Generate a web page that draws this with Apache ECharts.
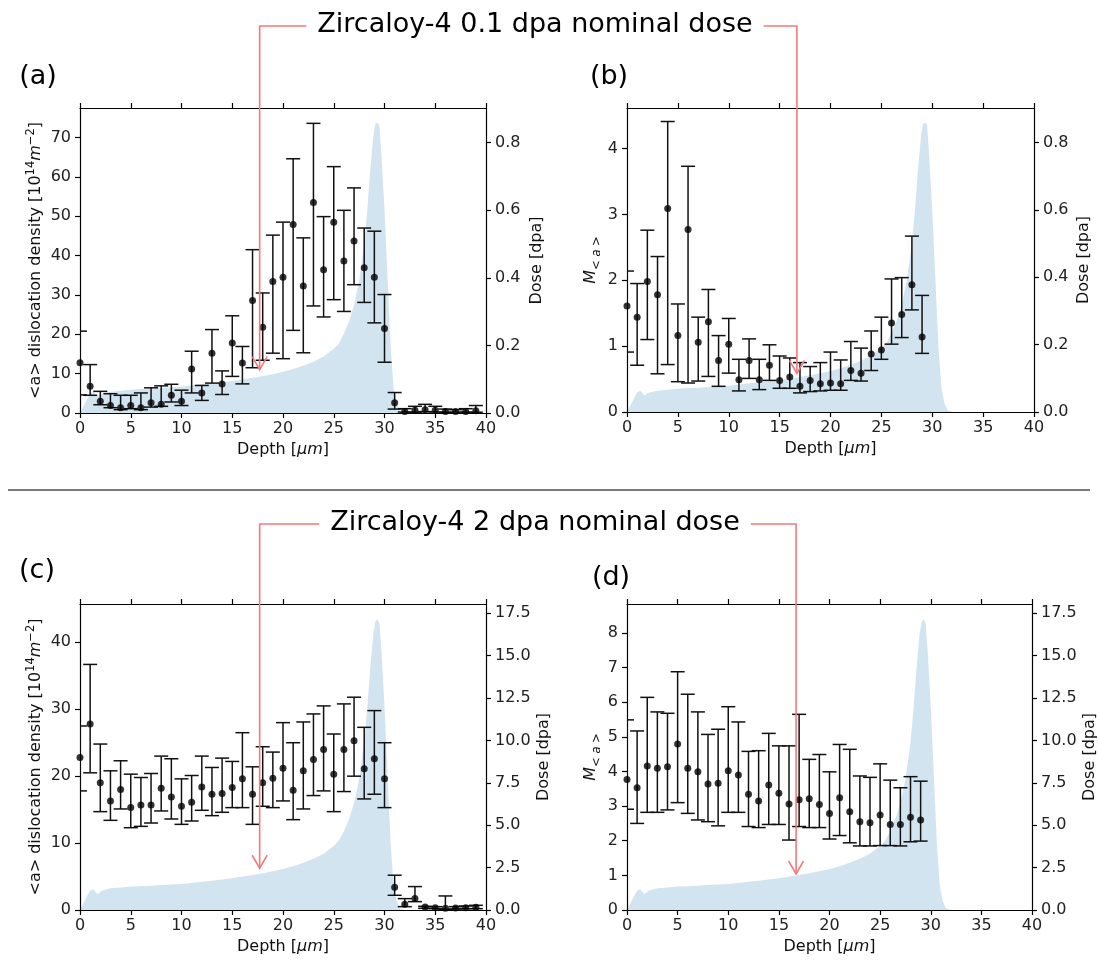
<!DOCTYPE html>
<html><head><meta charset="utf-8">
<script src="https://cdn.jsdelivr.net/npm/echarts@6/dist/echarts.min.js"></script>
<style>html,body{margin:0;padding:0;background:#fff}#c{width:1099px;height:960px}</style>
</head><body><div id="c"></div>
<script>
// ---------------- data ----------------
const xTicks = [0,5,10,15,20,25,30,35,40];
const depth40 = [0,1,2,3,4,5,6,7,8,9,10,11,12,13,14,15,16,17,18,19,20,21,22,23,24,25,26,27,28,29,30,31,32,33,34,35,36,37,38,39];
const depth30 = [0,1,2,3,4,5,6,7,8,9,10,11,12,13,14,15,16,17,18,19,20,21,22,23,24,25,26,27,28,29];

// (a) <a> dislocation density, 0.1 dpa
const aVal = [12.8,6.8,3.0,1.9,1.35,1.9,1.35,2.6,2.2,4.5,3.0,11.2,5.1,15.2,7.4,17.8,12.7,28.6,21.8,33.4,34.5,47.9,32.3,53.5,36.4,48.5,38.6,43.7,36.9,34.5,21.5,2.6,0.4,0.7,0.85,0.7,0.4,0.35,0.4,0.6];
const aHi  = [20.8,12.3,5.5,4.9,4.5,4.5,5.1,6.4,6.9,7.3,5.8,15.7,7.0,21.2,10.7,24.7,16.9,41.5,30.5,45.2,48.5,64.6,44.5,73.6,49.9,62.6,51.5,57.2,47.0,46.2,30.1,5.2,1.1,1.7,2.2,1.7,1.0,0.85,1.1,1.9];
const aLo  = [4.6,4.5,2.1,1.35,0.85,1.1,0.85,1.5,1.7,2.8,1.9,5.1,3.2,7.6,4.7,9.3,7.4,11.5,13.4,15.2,13.8,21.0,15.3,27.2,24.4,28.8,25.8,32.6,28.1,22.9,12.9,1.0,0.25,0.2,0.35,0.25,0.2,0.2,0.2,0.2];

// (b) M<a>, 0.1 dpa
const bVal = [1.61,1.44,1.98,1.78,3.09,1.16,2.77,1.06,1.37,0.78,1.03,0.49,0.78,0.49,0.71,0.48,0.53,0.39,0.48,0.43,0.44,0.43,0.63,0.59,0.88,0.94,1.35,1.48,1.93,1.14];
const bHi  = [2.14,1.95,2.76,2.36,4.41,1.64,3.73,1.44,1.86,1.16,1.42,0.80,1.11,0.80,1.02,0.85,0.82,0.75,0.69,0.75,0.91,0.79,1.07,0.97,1.23,1.44,2.02,2.04,2.67,1.77];
const bLo  = [0.91,0.71,1.10,0.58,0.72,0.46,0.44,0.47,0.54,0.39,0.59,0.32,0.51,0.34,0.48,0.36,0.36,0.29,0.31,0.32,0.33,0.33,0.48,0.47,0.63,0.80,1.03,1.13,1.55,0.89];

// (c) <a> dislocation density, 2 dpa
const cVal = [22.8,27.8,19.0,16.3,18.0,15.3,15.7,15.7,18.2,16.9,15.5,16.1,18.4,17.3,17.4,18.3,19.6,17.3,19.0,19.7,21.2,17.9,20.8,22.5,24.0,20.3,24.0,25.3,21.1,22.6,19.6,3.4,0.85,1.7,0.45,0.35,0.25,0.3,0.35,0.4];
const cHi  = [27.5,36.7,24.8,20.8,22.3,20.3,19.8,20.4,23.0,22.6,19.6,20.1,23.0,21.3,22.7,22.2,26.5,21.4,24.4,23.6,28.0,25.0,28.1,29.3,30.5,26.3,30.8,31.8,27.3,29.8,25.0,5.2,1.7,3.5,0.55,0.5,2.1,0.5,0.6,0.7];
const cLo  = [17.8,20.5,14.7,13.4,15.1,12.3,12.5,13.0,14.8,13.6,12.8,13.3,14.9,14.1,14.6,15.3,15.3,12.8,15.5,15.3,16.3,13.5,15.1,17.1,17.8,14.7,17.7,20.0,16.6,17.3,15.3,2.2,0.5,1.25,0.25,0.2,0.1,0.15,0.2,0.2];

// (d) M<a>, 2 dpa
const dVal = [3.77,3.53,4.16,4.09,4.14,4.79,4.09,3.99,3.64,3.66,4.02,3.90,3.34,3.15,3.61,3.37,3.06,3.18,3.21,3.05,2.79,3.24,2.84,2.55,2.52,2.74,2.47,2.47,2.68,2.60];
const dHi  = [5.49,5.17,6.14,5.72,5.68,6.88,6.23,5.72,5.07,5.22,5.87,5.43,4.58,4.60,5.10,4.74,4.74,5.65,4.35,4.49,3.99,4.78,4.64,3.87,3.83,4.22,3.75,3.53,3.85,3.72];
const dLo  = [2.91,2.50,2.82,2.82,2.89,3.10,2.79,2.60,2.55,2.43,2.82,2.82,2.41,2.38,2.47,2.47,2.02,2.41,2.38,2.38,2.05,2.15,1.94,1.85,1.85,1.86,1.86,1.85,1.97,1.99];

// dose profiles (dpa) vs depth
const doseDepth = [0,0.5,1.0,1.3,1.7,2.2,3,4,5,6,7,8,9,10,11,12,13,14,15,16,17,18,19,20,21,22,23,24,25,25.5,26,26.5,27,27.5,28,28.3,28.6,28.9,29.1,29.3,29.5,29.7,30,30.3,30.6,30.9,31.2,31.5,32,40];
const dose01 = [0,0.03,0.058,0.063,0.05,0.058,0.063,0.066,0.069,0.071,0.072,0.074,0.076,0.078,0.082,0.085,0.088,0.091,0.095,0.099,0.104,0.109,0.115,0.122,0.13,0.14,0.152,0.167,0.19,0.205,0.235,0.27,0.32,0.39,0.5,0.6,0.72,0.82,0.855,0.86,0.85,0.76,0.6,0.4,0.2,0.07,0.025,0.005,0,0];
const dose2 = [0,0.6,1.15,1.22,0.95,1.15,1.28,1.33,1.38,1.4,1.43,1.47,1.5,1.53,1.6,1.66,1.73,1.8,1.88,1.97,2.07,2.17,2.28,2.42,2.58,2.78,3.02,3.32,3.78,4.1,4.65,5.35,6.3,7.7,9.9,11.9,14.3,16.3,17.0,17.15,16.9,15.2,12.0,8.0,4.0,1.4,0.5,0.1,0,0];

// tick values
const aTicks = [0,10,20,30,40,50,60,70];
const bTicks = [0,1,2,3,4];
const cTicks = [0,10,20,30,40];
const dTicks = [0,1,2,3,4,5,6,7,8];
const dose01Ticks = [0,0.2,0.4,0.6,0.8];
const dose2Ticks = [0,2.5,5,7.5,10,12.5,15,17.5];

// annotation arrows: [depth, value] of arrow tips
const arrowA = [17.7, 11.0];
const arrowB = [16.7, 0.585];
const arrowC = [17.7, 6.24];
const arrowD = [16.7, 1.04];

const titles = ['Zircaloy-4 0.1 dpa nominal dose', 'Zircaloy-4 2 dpa nominal dose'];
const panelLabels = ['(a)', '(b)', '(c)', '(d)'];

// ---------------- chart ----------------
const FONT = 'DejaVu Sans';
const chart = echarts.init(document.getElementById('c'), null, {renderer: 'canvas'});

const grids = [
  {left: 80, top: 108, width: 406, height: 305},
  {left: 627, top: 108, width: 407, height: 304},
  {left: 80, top: 604, width: 406, height: 306},
  {left: 627, top: 604, width: 407, height: 306}
];

const AX = {color: '#000', width: 1.2};
const FS = 16;
const lbl = {fontFamily: FONT, fontSize: FS, color: '#222'};

const leftName = '{n|<a> dislocation density [10}{s|14}{i|m}{s|−2}{n|]}';
const leftRich = {
  n: {fontFamily: FONT, fontSize: FS, color: '#111', lineHeight: 22},
  s: {fontFamily: FONT, fontSize: 11.5, color: '#111', verticalAlign: 'top', lineHeight: 22},
  i: {fontFamily: FONT, fontSize: FS, fontStyle: 'italic', color: '#111', lineHeight: 22}
};
const mName = '{i|M}{sub|< a >}';
const mRich = {
  i: {fontFamily: FONT, fontSize: FS, fontStyle: 'italic', color: '#111', lineHeight: 24},
  sub: {fontFamily: FONT, fontSize: 11.5, fontStyle: 'italic', color: '#111', verticalAlign: 'bottom', lineHeight: 24}
};
const depthName = '{n|Depth [}{i|μm}{n|]}';
const depthRich = {
  n: {fontFamily: FONT, fontSize: FS, color: '#111'},
  i: {fontFamily: FONT, fontSize: FS, fontStyle: 'italic', color: '#111'}
};

function xBottom(gi) {
  return {gridIndex: gi, type: 'value', position: 'bottom', min: 0, max: 40, interval: 5,
    axisLine: {show: true, onZero: false, lineStyle: AX},
    axisTick: {show: true, length: 5, lineStyle: AX, customValues: xTicks},
    axisLabel: Object.assign({margin: 8, customValues: xTicks}, lbl),
    splitLine: {show: false},
    name: depthName, nameLocation: 'middle', nameGap: 29,
    nameTextStyle: {rich: depthRich}};
}
function xTop(gi) {
  return {gridIndex: gi, type: 'value', position: 'top', min: 0, max: 40, interval: 5,
    axisLine: {show: true, onZero: false, lineStyle: AX},
    axisTick: {show: true, length: 5, lineStyle: AX, customValues: xTicks},
    axisLabel: {show: false}, splitLine: {show: false}};
}
function yAxis(gi, pos, max, ticks, fmt, name, gap, rich) {
  return {gridIndex: gi, type: 'value', position: pos, min: 0, max: max,
    axisLine: {show: true, onZero: false, lineStyle: AX},
    axisTick: {show: true, length: 5, lineStyle: AX, customValues: ticks},
    axisLabel: Object.assign({margin: 9, customValues: ticks, formatter: fmt}, lbl),
    splitLine: {show: false},
    name: name, nameLocation: 'middle', nameGap: gap,
    nameTextStyle: rich ? {rich: rich} : {fontFamily: FONT, fontSize: FS, color: '#111'}};
}
const f0 = v => String(v);
const f1 = v => v.toFixed(1);

const xAxes = [], yAxes = [];
for (let g = 0; g < 4; g++) { xAxes.push(xBottom(g)); xAxes.push(xTop(g)); }
yAxes.push(yAxis(0, 'left', 77.5, aTicks, f0, leftName, 33, leftRich));
yAxes.push(yAxis(0, 'right', 0.9025, dose01Ticks, f1, 'Dose [dpa]', 43));
yAxes.push(yAxis(1, 'left', 4.615, bTicks, f0, mName, 24, mRich));
yAxes.push(yAxis(1, 'right', 0.9025, dose01Ticks, f1, 'Dose [dpa]', 42));
yAxes.push(yAxis(2, 'left', 45.73, cTicks, f0, leftName, 33, leftRich));
yAxes.push(yAxis(2, 'right', 18.05, dose2Ticks, f1, 'Dose [dpa]', 50));
yAxes.push(yAxis(3, 'left', 8.836, dTicks, f0, mName, 24, mRich));
yAxes.push(yAxis(3, 'right', 18.05, dose2Ticks, f1, 'Dose [dpa]', 50));

function errRender(params, api) {
  const x = api.value(0), lo = api.value(1), hi = api.value(2);
  const pLo = api.coord([x, lo]), pHi = api.coord([x, hi]);
  const w = 7;
  const st = {stroke: '#111', lineWidth: 1.5};
  return {type: 'group', children: [
    {type: 'line', shape: {x1: pLo[0], y1: pLo[1], x2: pHi[0], y2: pHi[1]}, style: st},
    {type: 'line', shape: {x1: pLo[0] - w, y1: pLo[1], x2: pLo[0] + w, y2: pLo[1]}, style: st},
    {type: 'line', shape: {x1: pHi[0] - w, y1: pHi[1], x2: pHi[0] + w, y2: pHi[1]}, style: st}
  ]};
}

const panels = [
  {depth: depth40, val: aVal, lo: aLo, hi: aHi, dose: dose01},
  {depth: depth30, val: bVal, lo: bLo, hi: bHi, dose: dose01},
  {depth: depth40, val: cVal, lo: cLo, hi: cHi, dose: dose2},
  {depth: depth30, val: dVal, lo: dLo, hi: dHi, dose: dose2}
];

const series = [];
panels.forEach((p, g) => {
  series.push({type: 'line', xAxisIndex: 2 * g, yAxisIndex: 2 * g + 1,
    data: doseDepth.map((d, i) => [d, p.dose[i]]),
    showSymbol: false, symbol: 'none', smooth: false,
    lineStyle: {width: 0, opacity: 0},
    areaStyle: {color: 'rgba(31,119,180,0.2)', opacity: 1},
    silent: true, z: 1, animation: false});
  series.push({type: 'custom', xAxisIndex: 2 * g, yAxisIndex: 2 * g,
    data: p.depth.map((d, i) => [d, p.lo[i], p.hi[i]]),
    renderItem: errRender, clip: true, z: 3, animation: false, silent: true});
  series.push({type: 'scatter', xAxisIndex: 2 * g, yAxisIndex: 2 * g,
    data: p.depth.map((d, i) => [d, p.val[i]]),
    symbol: 'circle', symbolSize: 7, itemStyle: {color: '#000'},
    clip: true, z: 4, animation: false, silent: true});
});

chart.setOption({
  backgroundColor: '#fff',
  animation: false,
  grid: grids,
  xAxis: xAxes,
  yAxis: yAxes,
  series: series
});

// ---------------- annotations ----------------
const RED = '#f27a7a';
const cv = document.createElement('canvas').getContext('2d');
const TFS = 27;
cv.font = TFS + 'px "' + FONT + '"';
const cx = 535;

function arrow(tip) {
  return [
    {type: 'polyline', shape: {points: [[tip[0] - 7.5, tip[1] - 13], [tip[0], tip[1]], [tip[0] + 7.5, tip[1] - 13]]},
     style: {stroke: RED, lineWidth: 1.6, fill: null}, z: 100}
  ];
}
function connector(title, ty, tipL, tipR) {
  const w = cv.measureText(title).width;
  const gap = 11;
  const els = [];
  els.push({type: 'text', x: cx, y: ty, style: {text: title, fontFamily: FONT, fontSize: TFS, fill: '#000', align: 'center', verticalAlign: 'middle'}, z: 100});
  els.push({type: 'polyline', shape: {points: [[cx - w / 2 - gap, ty + 1], [tipL[0], ty + 1], [tipL[0], tipL[1]]]}, style: {stroke: RED, lineWidth: 1.6, fill: null}, z: 100});
  els.push({type: 'polyline', shape: {points: [[cx + w / 2 + gap, ty + 1], [tipR[0], ty + 1], [tipR[0], tipR[1]]]}, style: {stroke: RED, lineWidth: 1.6, fill: null}, z: 100});
  return els.concat(arrow(tipL), arrow(tipR));
}

const tA = chart.convertToPixel({seriesIndex: 2}, arrowA);
const tB = chart.convertToPixel({seriesIndex: 5}, arrowB);
const tC = chart.convertToPixel({seriesIndex: 8}, arrowC);
const tD = chart.convertToPixel({seriesIndex: 11}, arrowD);

let graphic = [];
graphic = graphic.concat(connector(titles[0], 25, tA, tB));
graphic = graphic.concat(connector(titles[1], 523, tC, tD));
graphic.push({type: 'line', shape: {x1: 8, y1: 490, x2: 1090, y2: 490}, style: {stroke: '#7a7a7a', lineWidth: 2}, z: 100});
const labelPos = [[38, 77], [609, 77], [37, 571], [611, 578]];
panelLabels.forEach((t, i) => {
  graphic.push({type: 'text', x: labelPos[i][0], y: labelPos[i][1],
    style: {text: t, fontFamily: FONT, fontSize: 27, fill: '#000', align: 'center', verticalAlign: 'middle'}, z: 100});
});

chart.setOption({graphic: graphic});
</script>
</body></html>
